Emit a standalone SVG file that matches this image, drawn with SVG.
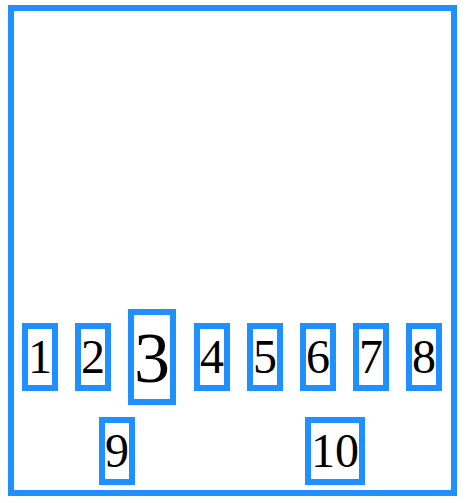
<svg xmlns="http://www.w3.org/2000/svg" width="466" height="503" viewBox="0 0 466 503">
<style>
.b{fill:none;stroke:#1E90FF;stroke-width:6}
.t{font-family:"Liberation Serif","Times New Roman",serif;font-size:48px;fill:#000;text-anchor:middle}
.big{font-size:72px}
</style>
<rect width="466" height="503" fill="#fff"/>
<g id="container"><rect class="b" x="11" y="8" width="443" height="485"/></g>
<g id="n1"><rect class="b" x="25" y="326" width="30" height="62"/><text class="t" x="40" y="373">1</text></g>
<g id="n2"><rect class="b" x="78" y="326" width="30" height="62"/><text class="t" x="93" y="373">2</text></g>
<g id="n3"><rect class="b" x="131" y="312" width="42" height="90"/><text class="t big" x="152" y="382">3</text></g>
<g id="n4"><rect class="b" x="197" y="326" width="30" height="62"/><text class="t" x="212" y="373">4</text></g>
<g id="n5"><rect class="b" x="250" y="326" width="30" height="62"/><text class="t" x="265" y="373">5</text></g>
<g id="n6"><rect class="b" x="303" y="326" width="30" height="62"/><text class="t" x="318" y="373">6</text></g>
<g id="n7"><rect class="b" x="356" y="326" width="30" height="62"/><text class="t" x="371" y="373">7</text></g>
<g id="n8"><rect class="b" x="409" y="326" width="30" height="62"/><text class="t" x="424" y="373">8</text></g>
<g id="n9"><rect class="b" x="102" y="420" width="30" height="62"/><text class="t" x="117" y="467">9</text></g>
<g id="n10"><rect class="b" x="308" y="420" width="54" height="62"/><text class="t" x="335" y="467">10</text></g>
<g id="connectors"></g>
</svg>
